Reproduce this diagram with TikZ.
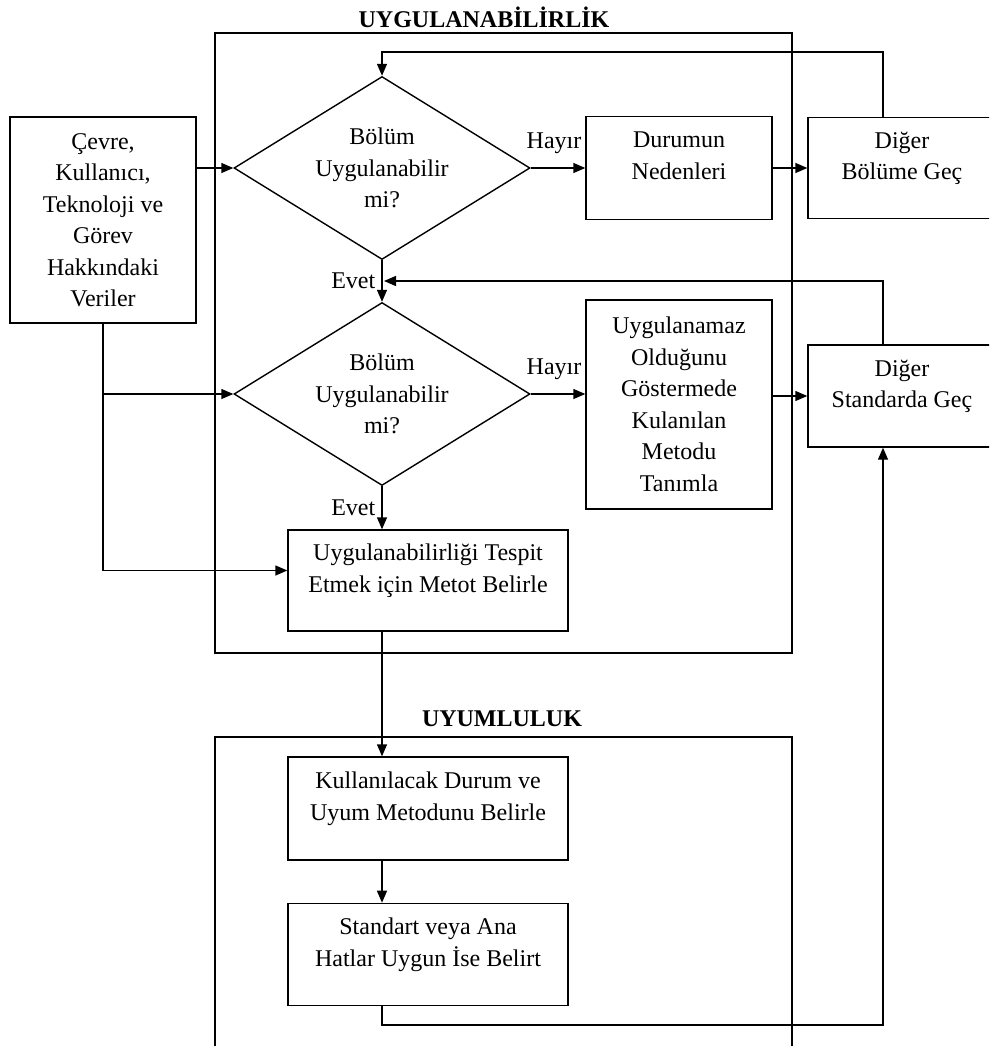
\documentclass[tikz,border=0pt]{standalone}
\usepackage{fontspec}
\setmainfont{Liberation Serif}
\usetikzlibrary{positioning, arrows.meta, shapes.geometric}

\begin{document}
\begin{tikzpicture}[x=1pt, y=-1pt,
  every node/.style={font=\fontsize{24}{31.5}\selectfont},
  kutu/.style={draw, line width=1.4pt, align=center, inner sep=0pt},
  karar/.style={draw, diamond, aspect=1.62, line width=1.4pt, align=center,
                inner sep=0pt, minimum width=296pt, minimum height=183pt},
  cerceve/.style={draw, line width=1.4pt, inner sep=0pt},
  baslik/.style={font=\fontsize{24}{31.5}\selectfont\bfseries},
  etiket/.style={inner sep=1pt},
  cizgi/.style={line width=1.4pt},
  ok/.style={line width=1.4pt, -{Triangle[length=12pt, width=10pt]}}]
\path[use as bounding box, fill=white] (0,0) rectangle (989,1046);
\clip (0,0) rectangle (989,1046);

% cerceveler
\node[cerceve, minimum width=577pt, minimum height=620pt] (uygulama) at (503.5,343) {};
\node[cerceve, minimum width=577pt, minimum height=330pt] (uyum) at (503.5,902) {};
\node[baslik] (b1) at (484,17) {UYGULANABİLİRLİK};
\node[baslik] (b2) at (502,719) {UYUMLULUK};

% kutular
\node[kutu, minimum width=186pt, minimum height=206pt] (veri) at (103,220)
     {Çevre,\\Kullanıcı,\\Teknoloji ve\\Görev\\Hakkındaki\\Veriler};
\node[karar] (d1) at (382,168) {Bölüm\\Uygulanabilir\\mi?};
\node[kutu, minimum width=186pt, minimum height=103pt] (neden) at (679,168)
     {Durumun\\Nedenleri\\[-7pt]\mbox{}};
\node[kutu, minimum width=188pt, minimum height=101pt] (diger1) at (902,168)
     {Diğer\\Bölüme Geç\\[-7pt]\mbox{}};
\node[karar] (d2) at (382,394) {Bölüm\\Uygulanabilir\\mi?};
\node[kutu, minimum width=186pt, minimum height=209pt] (uygun) at (679,404.5)
     {Uygulanamaz\\Olduğunu\\Göstermede\\Kulanılan\\Metodu\\Tanımla};
\node[kutu, minimum width=188pt, minimum height=102pt] (diger2) at (902,396)
     {Diğer\\Standarda Geç\\[-7pt]\mbox{}};
\node[kutu, minimum width=280pt, minimum height=101pt] (yontem) at (428,580.5)
     {Uygulanabilirliği Tespit\\Etmek için Metot Belirle\\[-7pt]\mbox{}};
\node[kutu, minimum width=280pt, minimum height=103pt] (kullan) at (428,808.5)
     {Kullanılacak Durum ve\\Uyum Metodunu Belirle\\[-7pt]\mbox{}};
\node[kutu, minimum width=280pt, minimum height=102pt, below=42pt of kullan] (standart)
     {Standart veya Ana\\Hatlar Uygun İse Belirt\\[-7pt]\mbox{}};

% baglantilar
\coordinate (ust) at (883,52);
\coordinate (ust2) at (883,281);
\coordinate (alt) at (883,1025);
\draw[ok] (veri.east |- d1.west) -- (d1.west);
\draw[ok] (d1.east) -- node[etiket, above=13pt, xshift=-4pt] {Hayır} (neden.west);
\draw[ok] (neden.east) -- (diger1.west);
\draw[ok] (diger1.north -| ust) |- (ust -| d1.north) -- (d1.north);
\draw[ok] (d1.south) -- node[etiket, left=5pt] {Evet} (d2.north);
\draw[ok] (diger2.north -| ust2) |- ([xshift=2pt]ust2 -| d1.south);
\draw[ok] (d2.east) -- node[etiket, above=13pt, xshift=-4pt] {Hayır} (d2.east -| uygun.west);
\draw[ok] (uygun.east |- diger2.west) -- (diger2.west);
\draw[ok] (d2.south) -- node[etiket, left=5pt] {Evet} (d2.south |- yontem.north);
\draw[ok] (veri.south) |- ([yshift=10pt]yontem.west);
\draw[ok] (veri.south |- d2.west) -- (d2.west);
\draw[ok] (d2.south |- yontem.south) -- (d2.south |- kullan.north);
\draw[ok] (d2.south |- kullan.south) -- (d2.south |- standart.north);
\draw[ok] (d2.south |- standart.south) |- (alt) -- (diger2.south -| alt);
\end{tikzpicture}
\end{document}
